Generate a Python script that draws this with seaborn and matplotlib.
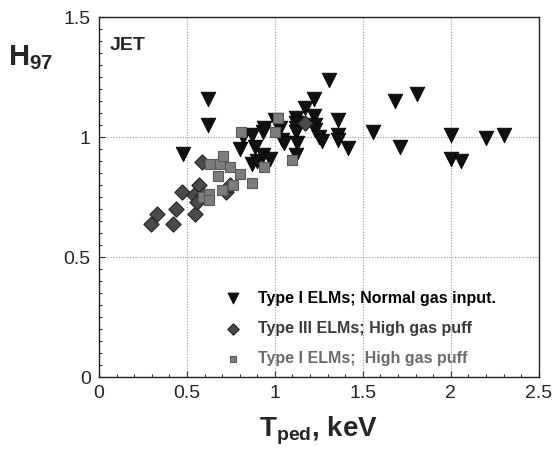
import matplotlib
matplotlib.use("Agg")
import matplotlib.pyplot as plt
import seaborn as sns
import pandas as pd
from matplotlib.ticker import MultipleLocator

# --- data (T_ped in keV, H97) ---
tri_T = [0.48, 0.62, 0.62, 0.80, 0.82, 0.87, 0.87, 0.885, 0.90, 0.93, 0.93, 0.94,
         0.97, 1.00, 1.03, 1.04, 1.05, 1.12, 1.12, 1.12, 1.12, 1.125, 1.12, 1.17,
         1.22, 1.22, 1.23, 1.23, 1.25, 1.27, 1.31, 1.36, 1.36, 1.36, 1.415, 1.56,
         1.68, 1.71, 1.81, 2.00, 2.00, 2.06, 2.20, 2.30]
tri_H = [0.93, 1.16, 1.05, 0.95, 1.00, 1.01, 0.89, 0.96, 0.90, 1.02, 0.925, 1.04,
         0.91, 1.07, 1.04, 0.99, 0.975, 1.08, 1.06, 1.04, 1.02, 0.975, 0.925, 1.12,
         1.16, 1.09, 1.05, 1.03, 1.00, 0.985, 1.24, 1.07, 1.01, 0.99, 0.955, 1.02,
         1.15, 0.96, 1.18, 1.01, 0.91, 0.90, 0.995, 1.01]

dia_T = [0.295, 0.33, 0.42, 0.44, 0.47, 0.545, 0.54, 0.555, 0.57, 0.59, 0.585,
         0.72, 0.745, 1.17]
dia_H = [0.64, 0.68, 0.64, 0.70, 0.77, 0.68, 0.76, 0.73, 0.80, 0.76, 0.895,
         0.77, 0.80, 1.06]

sq_T = [0.59, 0.625, 0.625, 0.63, 0.675, 0.69, 0.70, 0.705, 0.745, 0.76, 0.80,
        0.81, 0.87, 0.94, 1.00, 1.02, 1.10]
sq_H = [0.75, 0.765, 0.74, 0.89, 0.84, 0.89, 0.78, 0.92, 0.875, 0.80, 0.845,
        1.02, 0.81, 0.875, 1.02, 1.08, 0.905]

labels = ["Type I ELMs; Normal gas input.",
          "Type III ELMs; High gas puff",
          "Type I ELMs;  High gas puff"]

df_tri = pd.DataFrame({"T": tri_T, "H": tri_H})
df_dia = pd.DataFrame({"T": dia_T, "H": dia_H})
df_sq = pd.DataFrame({"T": sq_T, "H": sq_H})

sns.set_style("ticks")
plt.rcParams["font.family"] = ["Liberation Sans", "DejaVu Sans"]
plt.rcParams["mathtext.fontset"] = "custom"
plt.rcParams["mathtext.rm"] = "Liberation Sans:bold"
plt.rcParams["mathtext.bf"] = "Liberation Sans:bold"

fig = plt.figure(figsize=(5.56, 4.5), dpi=100)
ax = fig.add_axes([0.178, 0.162, 0.791, 0.800])

sns.scatterplot(data=df_tri, x="T", y="H", marker="v", s=110, color="#111111",
                edgecolor="#000000", linewidth=0.6, label=labels[0], ax=ax, zorder=3)
sns.scatterplot(data=df_dia, x="T", y="H", marker="D", s=60, color="#4a4a4a",
                edgecolor="#222222", linewidth=0.8, label=labels[1], ax=ax, zorder=4)
sns.scatterplot(data=df_sq, x="T", y="H", marker="s", s=45, color="#7d7d7d",
                edgecolor="#5a5a5a", linewidth=0.8, label=labels[2], ax=ax, zorder=5)

ax.set_xlim(0, 2.5)
ax.set_ylim(0, 1.5)
ax.xaxis.set_major_locator(MultipleLocator(0.5))
ax.yaxis.set_major_locator(MultipleLocator(0.5))
ax.xaxis.set_minor_locator(MultipleLocator(0.1))
ax.yaxis.set_minor_locator(MultipleLocator(0.05))
ax.set_xticks([0, 0.5, 1, 1.5, 2, 2.5])
ax.set_xticklabels(["0", "0.5", "1", "1.5", "2", "2.5"])
ax.set_yticks([0, 0.5, 1, 1.5])
ax.set_yticklabels(["0", "0.5", "1", "1.5"])
ax.tick_params(which="both", direction="in", labelsize=14, width=0.8, color="#333333")
ax.tick_params(which="major", length=4, pad=6)
ax.tick_params(which="minor", length=2.5)
ax.grid(True, which="major", linestyle=(0, (1, 1.5)), color="#999999", linewidth=0.8)
for sp in ax.spines.values():
    sp.set_linewidth(1.0)
    sp.set_color("#222222")

ax.set_xlabel("")
ax.set_ylabel("")
fig.text(0.465, 0.03, r"T$_{\mathrm{ped}}$, keV", fontsize=20, fontweight="bold")
fig.text(0.015, 0.855, r"H$_{\mathrm{97}}$", fontsize=21, fontweight="bold")
ax.text(0.025, 0.945, "JET", transform=ax.transAxes, fontsize=14,
        fontweight="bold", va="top")

leg = ax.legend(loc="upper left", bbox_to_anchor=(0.235, 0.28), frameon=False,
                fontsize=11.5, labelspacing=0.95, handletextpad=0.6,
                markerscale=0.75, labelcolor=["#000000", "#3a3a3a", "#6a6a6a"])
for t in leg.get_texts():
    t.set_fontweight("bold")

fig.savefig("out.png", dpi=100)
